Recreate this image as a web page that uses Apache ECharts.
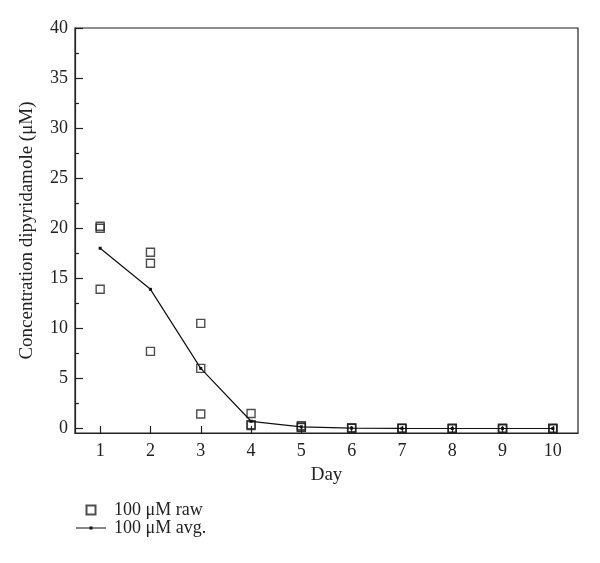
<!DOCTYPE html>
<html><head><meta charset="utf-8">
<script src="https://cdn.jsdelivr.net/npm/echarts@6/dist/echarts.min.js"></script>
<style>html,body{margin:0;padding:0;background:#fff}#c{width:600px;height:563px}</style>
</head><body><div id="c"></div>
<script>
var days = [1,2,3,4,5,6,7,8,9,10];
var rawDays = [1,1,1,2,2,2,3,3,3,4,4,4,5,5,5,6,6,6,7,7,7,8,8,8,9,9,9,10,10,10];
var rawValues = [20.2,20.0,13.9, 17.6,16.5,7.7, 10.5,6.0,1.45, 1.5,0.37,0.3, 0.27,0.15,0.1, 0.05,0.04,0.03, 0.02,0.01,0.0, 0.0,0.0,0.0, 0.0,0.0,0.0, 0.0,0.0,0.0];
var avgValues = [18.0,13.9,6.0,0.72,0.17,0.04,0.01,0.0,0.0,0.0];
var yMajorTicks = [0,5,10,15,20,25,30,35,40];
var yMinorTicks = [2.5,7.5,12.5,17.5,22.5,27.5,32.5,37.5];
var xTicks = [1,2,3,4,5,6,7,8,9,10];

var font = 'Liberation Serif';
var chart = echarts.init(document.getElementById('c'));
chart.setOption({
  animation:false,
  textStyle:{fontFamily:font,color:'#222'},
  grid:{left:75,top:28,right:22,bottom:130,show:true,borderColor:'#222',borderWidth:1.2,backgroundColor:'transparent'},
  xAxis:{type:'value',min:0.5,max:10.5,
    name:'Day',nameLocation:'middle',nameGap:33,nameTextStyle:{fontFamily:font,fontSize:19,color:'#222'},
    axisLine:{onZero:false,lineStyle:{color:'#222',width:1.2}},
    axisTick:{inside:true,length:7,customValues:xTicks,lineStyle:{color:'#222',width:1.2}},
    axisLabel:{customValues:xTicks,fontFamily:font,fontSize:18,color:'#222',margin:9},
    splitLine:{show:false}},
  yAxis:[{type:'value',min:-0.45,max:40,
    name:'Concentration dipyridamole (μM)',nameLocation:'middle',nameGap:38,nameRotate:90,
    nameTextStyle:{fontFamily:font,fontSize:19,color:'#222'},
    axisLine:{show:true,onZero:false,lineStyle:{color:'#222',width:1.2}},
    axisTick:{show:true,inside:true,length:8,customValues:yMajorTicks,lineStyle:{color:'#222',width:1.2}},
    axisLabel:{customValues:yMajorTicks,fontFamily:font,fontSize:18,color:'#222',margin:7},
    splitLine:{show:false}},
   {type:'value',min:-0.45,max:40,position:'left',
    axisLine:{show:false,onZero:false},
    axisTick:{show:true,inside:true,length:4,customValues:yMinorTicks,lineStyle:{color:'#222',width:1.2}},
    axisLabel:{show:false},splitLine:{show:false}}],
  legend:{left:75,top:501,padding:0,orient:'vertical',itemWidth:30,itemHeight:10,itemGap:0,symbolKeepAspect:true,
    textStyle:{fontFamily:font,fontSize:18,color:'#222',padding:[0,0,0,3]},
    data:[{name:'100 μM raw',icon:'path://M0,0M30,10M10.5,0.5h9v9h-9z'},
          {name:'100 μM avg.',icon:'path://M0,4.5h30v1.2h-30z M13.5,3.6h3v3h-3z'}]},
  series:[
    {name:'100 μM raw',type:'scatter',symbol:'rect',symbolSize:8,symbolKeepAspect:true,
     data:rawDays.map(function(d,i){return [d,rawValues[i]];}),
     itemStyle:{color:'rgba(255,255,255,0)',borderColor:'#222',borderWidth:1.4},z:3},
    {name:'100 μM avg.',type:'line',symbol:'rect',symbolSize:3,showSymbol:true,
     data:days.map(function(d,i){return [d,avgValues[i]];}),
     lineStyle:{color:'#111',width:1.2},itemStyle:{color:'#111'},z:4}
  ]
});
</script></body></html>
